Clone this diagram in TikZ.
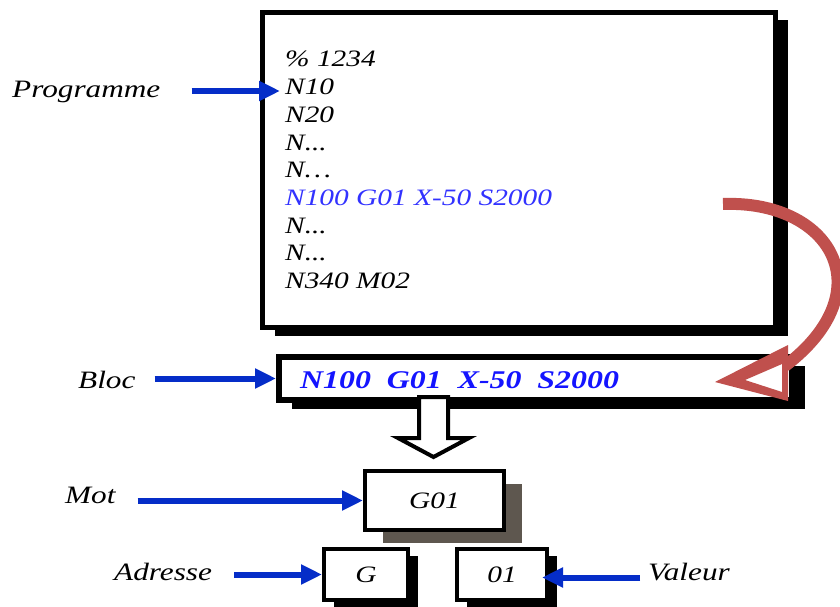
\documentclass[tikz,border=0pt]{standalone}
\usepackage{fontspec}
\setmainfont{Liberation Serif}[FakeStretch=1.25]
\usetikzlibrary{arrows.meta,shadows}
\definecolor{arrblue}{RGB}{5,45,200}
\definecolor{progblue}{RGB}{50,50,255}
\definecolor{blocblue}{RGB}{20,20,255}
\definecolor{arcred}{RGB}{192,80,77}
\definecolor{shadowgray}{RGB}{94,87,79}
\begin{document}
\begin{tikzpicture}[x=1pt,y=-1pt,
  pline/.style={anchor=base west,inner sep=0pt,font=\fontsize{23.5}{27}\selectfont\itshape},
  lab/.style={anchor=base west,inner sep=0pt,font=\fontsize{25}{29}\selectfont\itshape},
  cbox/.style={draw=black,fill=white,inner sep=0pt,outer sep=0pt,font=\fontsize{23.5}{27}\selectfont\itshape},
  barrow/.style={draw=arrblue,line width=6pt,-{Triangle[length=21pt,width=19pt]}},
]
\useasboundingbox (0,0) rectangle (840,607);
\fill[white] (0,0) rectangle (840,607);
\clip (0,0) rectangle (840,607);

% program box
\node[cbox,line width=5pt,minimum width=513pt,minimum height=315pt,
  drop shadow={shadow xshift=12pt,shadow yshift=-8pt,fill=black,opacity=1}] (prog) at (519,170) {};
\node[pline] (l1) at (285,67) {\% 1234};
\node[pline] (l2) at (285,95) {N10};
\node[pline] (l3) at (285,122.6) {N20};
\node[pline] (l4) at (285,150.2) {N...};
\node[pline] (l5) at (285,177.8) {N…};
\node[pline,text=progblue] (l6) at (285,205.4) {N100 G01 X-50 S2000};
\node[pline] (l7) at (285,233) {N...};
\node[pline] (l8) at (285,260.6) {N...};
\node[pline] (l9) at (285,288.2) {N340 M02};

% bloc box
\node[cbox,line width=6pt,minimum width=513pt,minimum height=43pt,
  drop shadow={shadow xshift=13pt,shadow yshift=-9pt,fill=black,opacity=1}] (bloc) at (535.5,378.5) {};
\node[anchor=base west,inner sep=0pt,text=blocblue,font=\fontsize{25.5}{29}\selectfont\bfseries\itshape] (bloctext) at (300,388) {N100~~G01~~X-50~~S2000};

% mot box
\node[cbox,line width=4pt,minimum width=139pt,minimum height=59pt,
  drop shadow={shadow xshift=18pt,shadow yshift=-13pt,fill=shadowgray,opacity=1}] (mot) at (434.5,500.5) {G01};
% adresse / valeur boxes
\node[cbox,line width=4pt,minimum width=84pt,minimum height=51pt,
  drop shadow={shadow xshift=10pt,shadow yshift=-7pt,fill=black,opacity=1}] (gbox) at (366,574.5) {G};
\node[cbox,line width=4pt,minimum width=90pt,minimum height=51pt,
  drop shadow={shadow xshift=10pt,shadow yshift=-7pt,fill=black,opacity=1}] (vbox) at (502,574.5) {01};

% hollow arrow bloc -> mot
\draw[line width=4pt,fill=white,line join=miter]
  (419,397) -- (448,397) -- (448,438) -- (469,438) -- (433.5,457) -- (398,438) -- (419,438) -- cycle;

% red curved arrow
\coordinate (rs) at (723,204);
\coordinate (re) at (785,366);
\draw[arcred,line width=12pt] (rs) .. controls (830,200) and (885,290) .. (re);
\fill[white] (745,380) -- (782,364) -- (782,392) -- cycle;
\fill[arcred,even odd rule] (715,382) -- (788,345) -- (788,401) -- cycle
  (745,380) -- (782,364) -- (782,392) -- cycle;

% labels
\node[lab] (lprog) at (12,98) {Programme};
\node[lab] (lbloc) at (78,388) {Bloc};
\node[lab] (lmot) at (65,503) {Mot};
\node[lab] (ladr) at (114,580) {Adresse};
\node[lab] (lval) at (648,580) {Valeur};

% blue arrows
\coordinate (p10) at ([yshift=4pt]l2.base west);
\draw[barrow,shorten <=31pt,shorten >=5pt] (p10 -| lprog.east) -- (p10);
\draw[barrow,shorten <=19pt,shorten >=3pt] (bloc.west -| lbloc.east) -- (bloc.west);
\draw[barrow,shorten <=22pt,shorten >=2pt] (mot.west -| lmot.east) -- (mot.west);
\draw[barrow,shorten <=22pt,shorten >=2pt] (gbox.west -| ladr.east) -- (gbox.west);
\draw[barrow,shorten <=8pt,shorten >=-5pt] ([yshift=-3pt]vbox.east -| lval.west) -- ([yshift=-3pt]vbox.east);
\end{tikzpicture}
\end{document}
